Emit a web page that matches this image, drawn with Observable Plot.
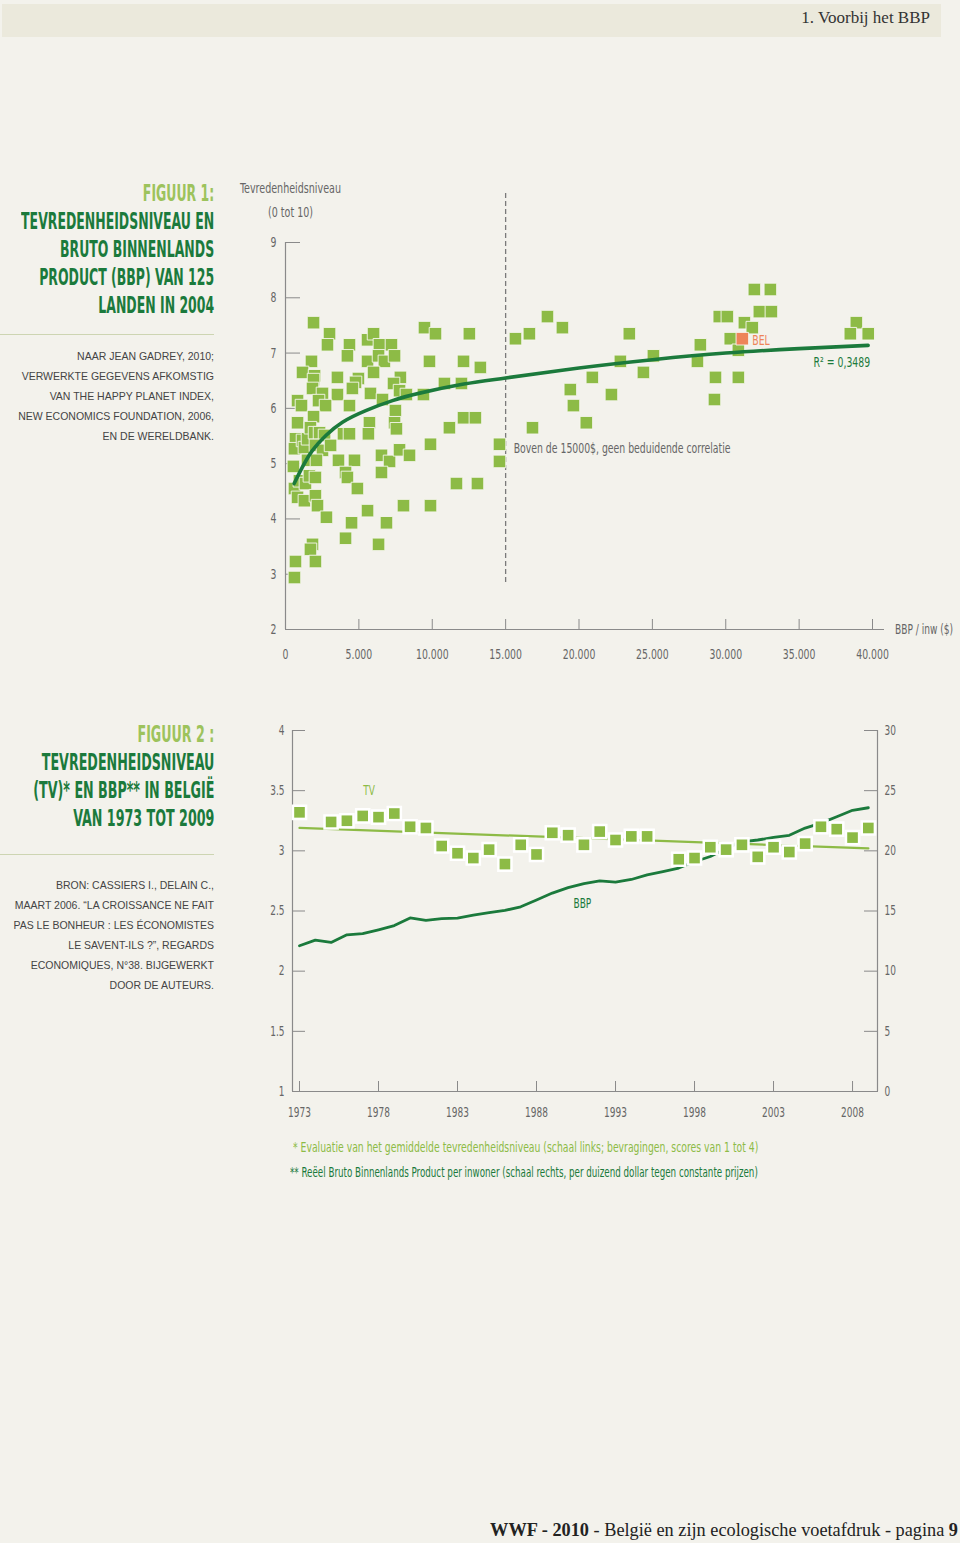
<!DOCTYPE html>
<html><head><meta charset="utf-8">
<script src="https://cdn.jsdelivr.net/npm/d3@7"></script>
<script src="https://cdn.jsdelivr.net/npm/@observablehq/plot@0.6"></script>
<style>
html,body{margin:0;padding:0;background:#f3f2ec;}
#page{position:relative;width:960px;height:1543px;overflow:hidden;background:#f3f2ec;}
.abs{position:absolute;}
.hdr{left:2px;top:4px;width:939px;height:33px;background:#ebe9dc;}
.hdrtext{right:30px;top:8px;font-family:"Liberation Serif",serif;font-size:17px;color:#333;white-space:nowrap;}
.narrow{font-family:"Liberation Sans Narrow","DejaVu Sans Condensed",sans-serif;}
.title{right:746px;text-align:right;font-size:23px;font-weight:bold;line-height:28px;color:#1b7a3c;white-space:nowrap;transform-origin:right top;}
.title .lt{color:#9dc35c;}
.src{right:746px;text-align:right;font-family:"Liberation Sans",Arial,sans-serif;font-size:10.5px;line-height:20px;color:#444;letter-spacing:0;white-space:nowrap;}
.sep{left:0;width:214px;height:0;border-top:1.5px solid #cdd5b2;}
.axl{font-size:14px;color:#666;white-space:nowrap;line-height:16px;transform-origin:left top;}
.foot{font-size:13.5px;line-height:16px;white-space:nowrap;transform-origin:left top;}
.footer{right:2px;top:1520px;font-family:"Liberation Serif",serif;font-size:18.3px;color:#222;white-space:nowrap;}
svg{overflow:visible;}
</style>
</head>
<body>
<div id="page">
  <div class="abs hdr"></div>
  <div class="abs hdrtext">1. Voorbij het BBP</div>

  <div class="abs title narrow" style="top:179px"><span class="lt">FIGUUR 1:</span><br><span data-ref="193">TEVREDENHEIDSNIVEAU EN</span><br>BRUTO BINNENLANDS<br>PRODUCT (BBP) VAN 125<br>LANDEN IN 2004</div>
  <div class="abs sep" style="top:334px"></div>
  <div class="abs src" style="top:346px">NAAR JEAN GADREY, 2010;<br>VERWERKTE GEGEVENS AFKOMSTIG<br>VAN THE HAPPY PLANET INDEX,<br>NEW ECONOMICS FOUNDATION, 2006,<br>EN DE WERELDBANK.</div>

  <div class="abs axl narrow" data-w="101" style="left:240px;top:180px">Tevredenheidsniveau</div>
  <div class="abs axl narrow" data-w="45" style="left:268px;top:204px">(0 tot 10)</div>
  <div class="abs axl narrow" data-w="58" style="left:895px;top:621px">BBP / inw ($)</div>
  <div id="chart1" class="abs" style="left:230px;top:170px"></div>

  <div class="abs title narrow" style="top:720px"><span class="lt">FIGUUR 2 :</span><br>TEVREDENHEIDSNIVEAU<br><span data-ref="181">(TV)* EN BBP** IN BELGIË</span><br>VAN 1973 TOT 2009</div>
  <div class="abs sep" style="top:854px"></div>
  <div class="abs src" style="top:875px">BRON: CASSIERS I., DELAIN C.,<br>MAART 2006. “LA CROISSANCE NE FAIT<br>PAS LE BONHEUR : LES ÉCONOMISTES<br>LE SAVENT-ILS ?”, REGARDS<br>ECONOMIQUES, N°38. BIJGEWERKT<br>DOOR DE AUTEURS.</div>

  <div id="chart2" class="abs" style="left:230px;top:700px"></div>

  <div class="abs foot narrow" data-w="465" style="left:293px;top:1139px;color:#8dbb46">* Evaluatie van het gemiddelde tevredenheidsniveau (schaal links; bevragingen, scores van 1 tot 4)</div>
  <div class="abs foot narrow" data-w="468" style="left:290px;top:1164px;color:#1b7a3c">** Reëel Bruto Binnenlands Product per inwoner (schaal rechts, per duizend dollar tegen constante prijzen)</div>

  <div class="abs footer"><b>WWF - 2010</b> - België en zijn ecologische voetafdruk - pagina <b>9</b></div>
</div>
<script>
// ---------- Figure 1 data ----------
const gdpPerCapita = [1910,3000,2860,4360,4220,1770,1160,1980,1910,3540,
4970,4770,1840,2520,2250,3540,4560,820,1090,2730,
4360,5590,6000,6400,7220,5590,6340,6740,7430,6000,
7830,7360,7770,5790,6610,8240,7490,820,1910,5720,
7430,7560,680,610,1160,1290,1500,1700,1980,2320,
2660,2040,2520,3070,3950,4360,5650,540,1500,2110,
3610,4700,6540,7090,7770,8450,4090,4220,6540,4900,
610,950,1360,1630,2040,820,1290,2040,2180,2790,
5590,4500,6880,8040,9880,11650,13080,4090,6340,1840,
1700,2040,680,610,9470,10220,12530,9810,12130,13280,
10830,11990,9400,12130,12940,11170,9880,14580,14580,15670,
16620,17850,18870,23430,28270,29560,30110,31270,31810,32290,
33110,31950,33040,30310,30860,28070,25070,22820,24390,20910,
19410,22210,19620,20500,16830,29300,30860,29230,38900,38490,
39710];
const satisfaction = [7.55,7.35,7.15,7.15,6.95,6.85,6.65,6.59,6.52,6.56,
6.54,6.47,6.36,6.27,6.14,6.25,6.36,6.14,6.05,6.05,
6.05,7.24,7.35,7.15,7.15,6.85,6.95,6.85,6.95,6.65,
6.56,6.45,6.32,6.27,6.16,6.25,5.96,5.74,5.85,5.74,
5.74,5.63,5.45,5.27,5.42,5.29,5.45,5.65,5.56,5.56,
5.51,5.33,5.24,5.33,5.54,5.54,5.54,4.95,5.06,5.06,
5.06,5.06,5.15,5.04,5.25,5.15,4.84,4.75,4.84,4.55,
4.55,4.69,4.64,4.78,4.75,4.39,4.33,4.42,4.24,4.03,
4.15,3.93,3.93,4.24,4.24,4.64,4.64,3.65,3.54,3.54,
3.45,3.23,3.23,2.94,7.46,7.35,7.35,6.85,6.85,6.74,
6.45,6.45,6.25,5.83,5.83,5.65,5.35,5.35,5.04,7.26,
7.35,7.66,7.46,7.35,7.15,7.66,7.66,7.55,7.46,7.75,
7.75,8.15,8.15,7.26,7.05,6.85,6.95,6.85,6.65,6.56,
6.34,6.25,6.05,5.74,5.65,6.56,6.56,6.16,7.55,7.35,
7.35];
const belgiumGdp = [31130];
const belgiumSat = [7.26];
const trendGdp = [590,1160,1840,2750,3880,5470,7290,9220,12150,15000,20000,25000,30000,35000,39700];
const trendSat = [4.64,4.94,5.24,5.51,5.75,5.96,6.14,6.28,6.44,6.55,6.73,6.88,7.00,7.08,7.14];
const xTicks1 = [0,5000,10000,15000,20000,25000,30000,35000,40000];
const yTicks1 = [2,3,4,5,6,7,8,9];
const thresholdGdp = 15000;

// ---------- Figure 2 data ----------
const tvYears = [1973,1975,1976,1977,1978,1979,1980,1981,1982,1983,1984,1985,1986,1987,1988,1989,1990,1991,1992,1993,1994,1995,
1997,1998,1999,2000,2001,2002,2003,2004,2005,2006,2007,2008,2009];
const tvValues = [3.32,3.24,3.25,3.29,3.28,3.31,3.20,3.19,3.04,2.98,2.94,3.01,2.89,3.05,2.97,3.15,3.13,3.05,3.16,3.09,3.12,3.12,
2.93,2.94,3.03,3.01,3.05,2.95,3.03,2.99,3.06,3.20,3.18,3.11,3.19];
const tvTrendYears = [1973,2009];
const tvTrendValues = [3.19,3.02];
const bbpYears = d3.range(1973,2010);
const bbpValues = [12.11,12.58,12.39,13.02,13.12,13.44,13.79,14.42,14.22,14.36,14.41,14.66,14.86,15.05,15.35,15.91,16.49,16.94,17.28,17.50,17.40,17.62,18.00,18.28,18.57,19.09,19.53,20.20,20.75,20.90,21.11,21.29,21.89,22.30,22.83,23.37,23.58];
const yearTicks = [1973,1978,1983,1988,1993,1998,2003,2008];
const leftTicks = [1,1.5,2,2.5,3,3.5,4];

// ---------- style ----------
const LIGHT = "#8dbb46", DARK = "#1b7a3c", ORANGE = "#ee8459", AXIS = "#8a8a8a", TXT = "#666";
const FONT = '"Liberation Sans Narrow","DejaVu Sans Condensed",sans-serif';
const SQUEEZE = 0.74;

const nl = d3.formatLocale({decimal: ",", thousands: ".", grouping: [3], currency: ["", "$"]});
const fmtThousands = nl.format(",");

const pts = gdpPerCapita.map((g, i) => ({gdp: g, sat: satisfaction[i]}));
const bel = belgiumGdp.map((g, i) => ({gdp: g, sat: belgiumSat[i]}));
const trend = trendGdp.map((g, i) => ({gdp: g, sat: trendSat[i]}));
const xMax1 = 40817;

const chart1 = Plot.plot({
  width: 730, height: 500,
  marginLeft: 55, marginRight: 76, marginTop: 72, marginBottom: 41,
  x: {domain: [0, xMax1]},
  y: {domain: [2, 9]},
  style: {background: "transparent", fontFamily: FONT, fontSize: "14px", color: TXT, overflow: "visible"},
  marks: [
    Plot.ruleX([thresholdGdp], {y1: 2.85, y2: 9.94, stroke: "#7a7a7a", strokeWidth: 1.3, strokeDasharray: "5,3"}),
    Plot.ruleX([0], {y1: 2, y2: 9, stroke: AXIS, strokeWidth: 1.2}),
    Plot.ruleY([2], {x1: 0, x2: xMax1, stroke: AXIS, strokeWidth: 1.2}),
    Plot.axisY({ticks: yTicks1, tickSize: -15, tickPadding: 24, stroke: AXIS, label: null, tickFormat: d => String(d)}),
    Plot.axisX({ticks: xTicks1, tickSize: -10, tickPadding: 30, stroke: AXIS, label: null, tickFormat: d => fmtThousands(d)}),
    Plot.dot(pts, {x: "gdp", y: "sat", symbol: "square", r: 7.1, fill: LIGHT, stroke: "#f6f6ee", strokeWidth: 0.9}),
    Plot.line(trend, {x: "gdp", y: "sat", stroke: DARK, strokeWidth: 3.6, curve: "natural"}),
    Plot.dot(bel, {x: "gdp", y: "sat", symbol: "square", r: 7.1, fill: ORANGE, stroke: "#f6f6ee", strokeWidth: 0.9}),
    Plot.text(bel, {x: "gdp", y: "sat", text: () => "BEL", dx: 10, dy: 2, textAnchor: "start", fill: ORANGE, fontSize: 14}),
    Plot.text([trend[trend.length - 1]], {x: "gdp", y: "sat", text: () => "R² = 0,3489", dx: 2, dy: 17, textAnchor: "end", fill: DARK, fontSize: 14}),
    Plot.text([thresholdGdp], {x: d => d, y: () => 5.27, text: () => "Boven de 15000$, geen beduidende correlatie", dx: 8, textAnchor: "start", fill: TXT, fontSize: 14})
  ]
});
document.getElementById("chart1").appendChild(chart1);

const tv = tvYears.map((y, i) => ({year: y, v: tvValues[i]}));
const tvTrend = tvTrendYears.map((y, i) => ({year: y, v: tvTrendValues[i]}));
const bbp = bbpYears.map((y, i) => ({year: y, v: bbpValues[i]}));
const xMin2 = 1972.557, xMax2 = 2009.58;
const toLeft = v => 1 + v / 10; // right scale (0..30) onto left scale (1..4)

const chart2 = Plot.plot({
  width: 730, height: 440,
  marginLeft: 62, marginRight: 83, marginTop: 30, marginBottom: 49,
  x: {domain: [xMin2, xMax2]},
  y: {domain: [1, 4]},
  style: {background: "transparent", fontFamily: FONT, fontSize: "13.5px", color: TXT, overflow: "visible"},
  marks: [
    Plot.ruleX([xMin2, xMax2], {y1: 1, y2: 4, stroke: AXIS, strokeWidth: 1.2}),
    Plot.ruleY([1], {x1: xMin2, x2: xMax2, stroke: AXIS, strokeWidth: 1.2}),
    Plot.axisY({anchor: "left", ticks: leftTicks, tickSize: -13, tickPadding: 21, stroke: AXIS, label: null, tickFormat: d => String(d)}),
    Plot.axisY({anchor: "right", ticks: leftTicks, tickSize: -14, tickPadding: 21, stroke: AXIS, label: null, tickFormat: d => String(Math.round((d - 1) * 10))}),
    Plot.axisX({ticks: yearTicks, tickSize: -10, tickPadding: 26, stroke: AXIS, label: null, tickFormat: d => String(d)}),
    Plot.line(tvTrend, {x: "year", y: "v", stroke: LIGHT, strokeWidth: 2.3}),
    Plot.line(bbp, {x: "year", y: d => toLeft(d.v), stroke: DARK, strokeWidth: 2.8}),
    Plot.dot(tv, {x: "year", y: "v", symbol: "square", r: 6.0, fill: LIGHT, stroke: "#ffffff", strokeWidth: 5, paintOrder: "stroke"}),
    Plot.text([{year: 1977.4, v: 3.5}], {x: "year", y: "v", text: () => "TV", fill: LIGHT, fontSize: 13.5}),
    Plot.text([{year: 1990.9, v: toLeft(15.6)}], {x: "year", y: "v", text: () => "BBP", fill: DARK, fontSize: 13.5})
  ]
});
document.getElementById("chart2").appendChild(chart2);

// condense svg texts (the original uses a narrow gothic face)
for (const svg of [chart1, chart2]) {
  svg.querySelectorAll("text").forEach(t => {
    const L = t.getComputedTextLength();
    if (L > 0) {
      t.setAttribute("textLength", (L * SQUEEZE).toFixed(2));
      t.setAttribute("lengthAdjust", "spacingAndGlyphs");
    }
  });
}
// condense html titles to the widths of the original lines
document.querySelectorAll(".title").forEach(el => {
  const ref = el.querySelector("[data-ref]");
  const k = +ref.dataset.ref / ref.getBoundingClientRect().width;
  el.style.transform = `scaleX(${k.toFixed(3)})`;
});
document.querySelectorAll("[data-w]").forEach(el => {
  const w = el.getBoundingClientRect().width;
  el.style.transform = `scaleX(${(+el.dataset.w / w).toFixed(3)})`;
});
</script>
</body></html>
